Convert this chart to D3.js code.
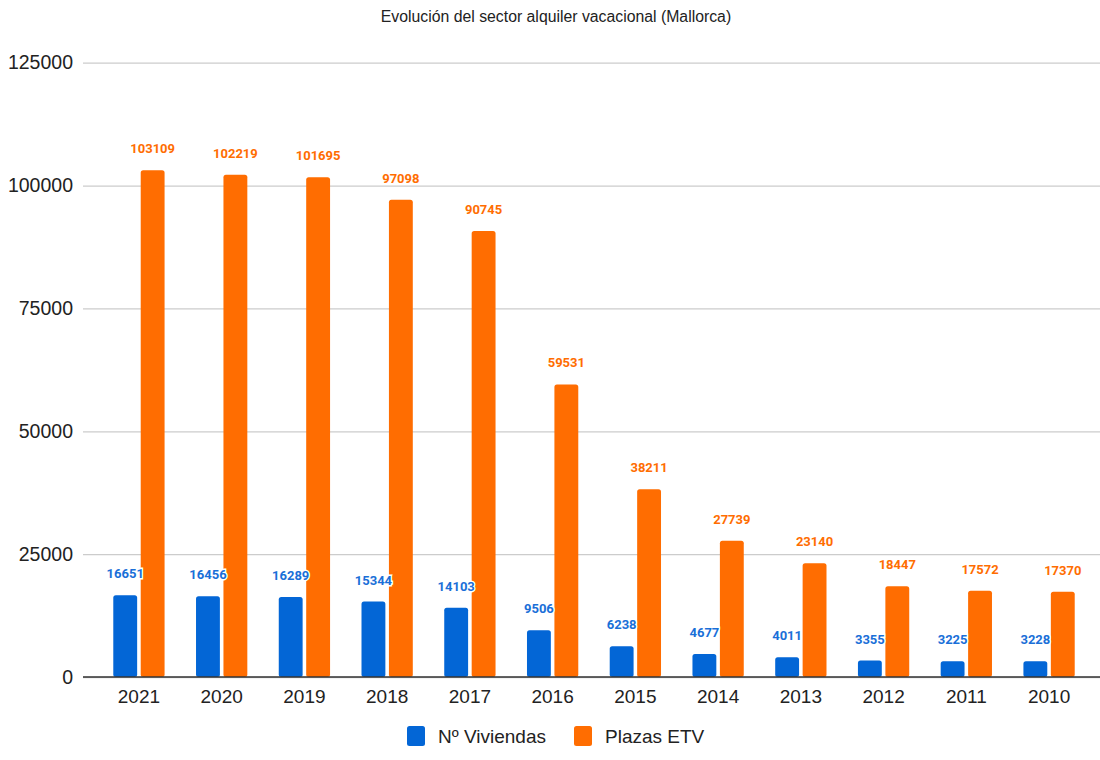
<!DOCTYPE html>
<html><head><meta charset="utf-8">
<script src="https://cdn.jsdelivr.net/npm/d3@7"></script>
<style>body{margin:0;background:#fff}svg{display:block}</style>
</head><body>
<svg id="c" width="1100" height="760"></svg>
<script>
const years = ["2021","2020","2019","2018","2017","2016","2015","2014","2013","2012","2011","2010"];
const viviendas = [16651,16456,16289,15344,14103,9506,6238,4677,4011,3355,3225,3228];
const plazas = [103109,102219,101695,97098,90745,59531,38211,27739,23140,18447,17572,17370];
const seriesNames = ["Nº Viviendas","Plazas ETV"];
const yTicks = [0,25000,50000,75000,100000,125000];
const colors = ["#0366d6","#ff6d01"];
const labelColors = ["#1a6fd8","#ff6d01"];

const svg = d3.select("#c");
const x = d3.scaleBand().domain(years).range([83,1105]).paddingInner(0.38).paddingOuter(0.366);
const xs = d3.scaleBand().domain([0,1]).range([0,x.bandwidth()]).paddingInner(0.13);
const y = d3.scaleLinear().domain([0,125000]).range([677,62.7]);
const font = "Liberation Sans, Arial, sans-serif";

svg.append("text").attr("x",556).attr("y",22).attr("text-anchor","middle")
  .attr("font-family",font).attr("font-size",15.8).attr("fill","#222")
  .text("Evolución del sector alquiler vacacional (Mallorca)");

const gy = svg.append("g").attr("transform","translate(83,0)")
  .call(d3.axisLeft(y).tickValues(yTicks).tickSize(-1022).tickPadding(10).tickFormat(d3.format("d")));
gy.select(".domain").remove();
gy.selectAll(".tick line").attr("stroke","#cccccc").attr("stroke-width",1.3);
gy.selectAll(".tick text").attr("font-family",font).attr("font-size",19.5).attr("fill","#222");

const series = [viviendas, plazas];
series.forEach((vals,si)=>{
  const g = svg.append("g");
  g.selectAll("rect").data(years).join("rect")
    .attr("x",d=>x(d)+xs(si)).attr("width",xs.bandwidth())
    .attr("y",(d,i)=>y(vals[i])).attr("height",(d,i)=>y(0)-y(vals[i]))
    .attr("rx",2.5).attr("fill",colors[si]);
});
series.forEach((vals,si)=>{
  const g = svg.append("g");
  g.selectAll("text").data(years).join("text")
    .attr("x",d=>x(d)+xs(si)+xs.bandwidth()/2)
    .attr("y",(d,i)=>y(vals[i])-17)
    .attr("text-anchor","middle").attr("font-family","Roboto, sans-serif")
    .attr("font-weight","bold").attr("font-size",13).attr("fill",labelColors[si])
    .attr("stroke","#fff").attr("stroke-width",si===0?3:0).attr("paint-order","stroke")
    .text((d,i)=>vals[i]);
});

const gx = svg.append("g").attr("transform","translate(0,677)")
  .call(d3.axisBottom(x).tickSize(0).tickPadding(13));
gx.select(".domain").attr("stroke","#333").attr("stroke-width",1.5).attr("d","M83,0H1105");
gx.selectAll(".tick text").attr("font-family",font).attr("font-size",19).attr("fill","#222");

const legend = svg.append("g");
const lx = [407, 574];
seriesNames.forEach((n,i)=>{
  legend.append("rect").attr("x",lx[i]).attr("y",726).attr("width",18).attr("height",20).attr("rx",2.5).attr("fill",colors[i]);
  legend.append("text").attr("x",lx[i]+31).attr("y",743).attr("font-family",font).attr("font-size",19).attr("fill","#222").text(n);
});
</script>
</body></html>
